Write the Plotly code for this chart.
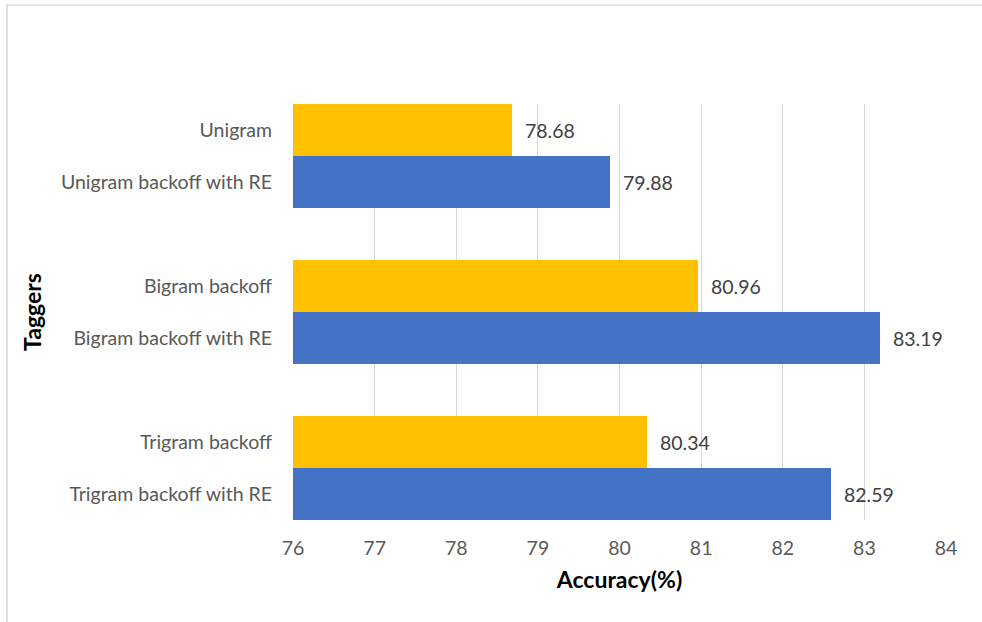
import plotly.graph_objects as go

# Tagger accuracy (%) per tagger, top to bottom
taggers = [
    "Unigram",
    "Unigram backoff with RE",
    "Bigram backoff",
    "Bigram backoff with RE",
    "Trigram backoff",
    "Trigram backoff with RE",
]
accuracy = [78.68, 79.88, 80.96, 83.19, 80.34, 82.59]
with_re = [False, True, False, True, False, True]

x_ticks = [76, 77, 78, 79, 80, 81, 82, 83, 84]

YELLOW = "#FFC000"
BLUE = "#4472C4"
FONT = "Lato, 'Open Sans', sans-serif"

# Each tagger pair forms a group; one empty slot separates groups.
positions = [i + i // 2 + 0.5 for i in range(len(taggers))]

fig = go.Figure()
for plain_or_re, color in ((False, YELLOW), (True, BLUE)):
    idx = [i for i, r in enumerate(with_re) if r == plain_or_re]
    fig.add_trace(go.Bar(
        x=[accuracy[i] - 76 for i in idx],
        base=76,
        y=[positions[i] for i in idx],
        orientation="h",
        width=1.0,
        marker=dict(color=color, line=dict(width=0)),
        showlegend=False,
        hoverinfo="skip",
    ))

annotations = [
    dict(x=v, y=p, xref="x", yref="y", text=f"{v:.2f}", showarrow=False,
         xanchor="left", xshift=11, yshift=0,
         font=dict(family=FONT, size=19.5, color="#404040"))
    for v, p in zip(accuracy, positions)
]

fig.update_layout(
    width=982, height=622,
    margin=dict(l=293, r=36, t=104, b=102),
    paper_bgcolor="white", plot_bgcolor="white",
    bargap=0,
    annotations=annotations,
    font=dict(family=FONT, size=19.5, color="#595959"),
    xaxis=dict(
        range=[76, 84], tickvals=x_ticks, ticktext=[str(t) for t in x_ticks],
        showgrid=True, gridcolor="#D9D9D9", gridwidth=1,
        zeroline=False, showline=False, ticks="", ticklen=0,
        ticklabelstandoff=14,
        tickfont=dict(family=FONT, size=19.5, color="#595959"),
        title=dict(text="<b>Accuracy(%)</b>", standoff=14,
                   font=dict(family=FONT, size=23, color="#000000")),
    ),
    yaxis=dict(
        range=[8, 0], tickvals=positions, ticktext=taggers,
        showgrid=False, zeroline=False, showline=False, ticks="",
        ticklabelstandoff=20,
        tickfont=dict(family=FONT, size=19.5, color="#595959"),
        title=dict(text="<b>Taggers</b>", standoff=12,
                   font=dict(family=FONT, size=23, color="#000000")),
    ),
    shapes=[dict(type="rect", xref="paper", yref="paper",
                 x0=(7 - 293) / 653, x1=(990 - 293) / 653,
                 y0=(520 - 630) / 416, y1=(520 - 5) / 416,
                 line=dict(color="#D9D9D9", width=1.5), layer="below")],
)

fig.write_html("out.html")
